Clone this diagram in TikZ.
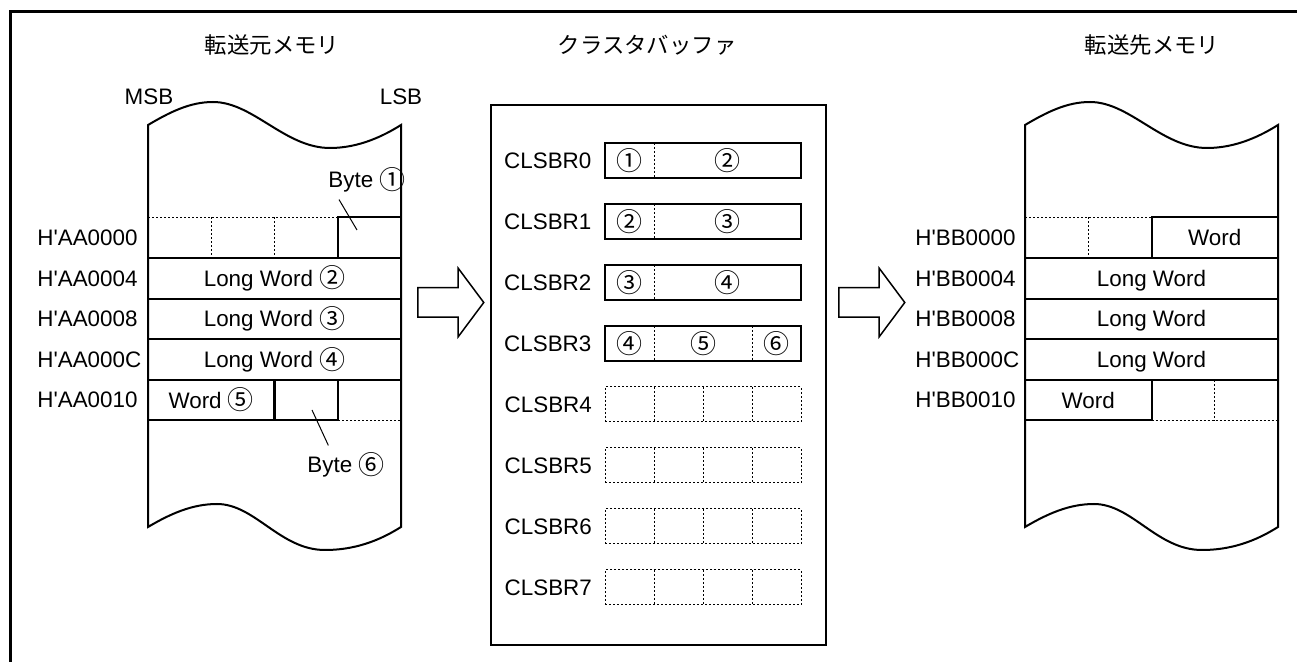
\documentclass[tikz,border=0pt]{standalone}
\usepackage{fontspec}
\setmainfont{Liberation Sans}
\newfontfamily\jpfont{Noto Sans CJK JP}
\usetikzlibrary{positioning,shapes.arrows}
\newcommand{\cnum}[1]{\raisebox{-0.8pt}{\jpfont\fontsize{13}{13}\selectfont #1}}
\newcommand{\hq}{H\textquotesingle}

\begin{document}
\begin{tikzpicture}[x=0.5pt,y=-0.5pt,font=\fontsize{11.2}{13}\selectfont]
\tikzstyle{memline}=[line width=1pt]
\tikzstyle{dotline}=[line width=0.5pt,dash pattern=on 1pt off 1pt]
\tikzstyle{cell}=[draw,line width=1pt,minimum width=126.5pt,minimum height=20.3pt,inner sep=0pt,text height=8pt,text depth=0pt]
\tikzstyle{bytecell}=[cell,minimum width=31.625pt]
\tikzstyle{halfcell}=[cell,minimum width=63.25pt]
\tikzstyle{reg}=[draw,line width=1pt,minimum width=98pt,minimum height=17.5pt,inner sep=0pt]
\tikzstyle{regdot}=[reg,dotline]
\tikzstyle{addr}=[anchor=west,inner sep=0pt]
\tikzstyle{num}=[inner sep=0pt,text height=8.2pt,text depth=0pt]
\tikzstyle{lead}=[line width=0.5pt]
\tikzstyle{blk}=[single arrow,draw,line width=0.75pt,anchor=tail,inner xsep=0pt,inner ysep=7pt,
  single arrow head extend=9.75pt,single arrow tip angle=106.6,minimum height=33pt]
\useasboundingbox (0,0) rectangle (1297,662);
\draw[line width=1.5pt] (10,662) -- (10,12) -- (1297,12);

\node (t1) at (272,45) {\jpfont 転送元メモリ};
\node (t2) at (647,45) {\jpfont クラスタバッファ};
\node (t3) at (1152,45) {\jpfont 転送先メモリ};
\node (msb) at (149,97) {MSB};
\node (lsb) at (401,97) {LSB};

% source memory
\draw[memline] (148,125) .. controls (170,112) and (190,102) .. (213,102) .. controls (253,102) and (285,148) .. (330,148)
  .. controls (360,148) and (385,135) .. (401,125) -- (401,527) .. controls (385,537) and (360,550) .. (325,550)
  .. controls (280,550) and (255,504) .. (217,504) .. controls (192,504) and (170,514) .. (148,527) -- cycle;
\draw[dotline] (148,217.5) -- (338,217.5) (211.25,217.5) -- (211.25,258.1) (274.5,217.5) -- (274.5,258.1);
\node[bytecell] (b1) at (369.5,237.8) {};
\node[cell] (lw2) at (274.5,278.4) {Long Word \cnum{②}};
\node[cell] (lw3) at (274.5,319) {Long Word \cnum{③}};
\node[cell] (lw4) at (274.5,359.6) {Long Word \cnum{④}};
\node[halfcell] (w5) at (211.25,400.2) {Word \cnum{⑤}\hspace{7pt}};
\node[bytecell] (b6) at (306.1,400.2) {};
\draw[dotline] (338,420.5) -- (401,420.5);
\node (lbl1) at (367,180) {Byte \cnum{①}};
\coordinate (p1) at (357,230);
\draw[lead] (lbl1.215) -- (p1);
\node (lbl6) at (346,465) {Byte \cnum{⑥}};
\coordinate (p6) at (312,410);
\draw[lead] (p6) -- (lbl6.132);
\node[addr] (aa0) at (37,237.8) {\hq AA0000};
\node[addr] (aa4) at (37,278.4) {\hq AA0004};
\node[addr] (aa8) at (37,319) {\hq AA0008};
\node[addr] (aac) at (37,359.6) {\hq AA000C};
\node[addr] (aa10) at (37,400.2) {\hq AA0010};

% cluster buffer
\node[draw,line width=1pt,minimum width=167.5pt,minimum height=270pt,inner sep=0pt] (buf) at (658.5,375) {};
\node[reg] (r0) at (703,160.5) {};
\node[reg] (r1) at (703,221.5) {};
\node[reg] (r2) at (703,282.5) {};
\node[reg] (r3) at (703,343.5) {};
\node[regdot] (r4) at (703,404.5) {};
\node[regdot] (r5) at (703,465.5) {};
\node[regdot] (r6) at (703,526.5) {};
\node[regdot] (r7) at (703,587.5) {};
\node[left=2.8pt of r0] (l0) {CLSBR0};
\node[left=2.8pt of r1] (l1) {CLSBR1};
\node[left=2.8pt of r2] (l2) {CLSBR2};
\node[left=2.8pt of r3] (l3) {CLSBR3};
\node[left=2.8pt of r4] (l4) {CLSBR4};
\node[left=2.8pt of r5] (l5) {CLSBR5};
\node[left=2.8pt of r6] (l6) {CLSBR6};
\node[left=2.8pt of r7] (l7) {CLSBR7};
\draw[dotline] (654,143) -- (654,178) (654,204) -- (654,239) (654,265) -- (654,300)
  (654,326) -- (654,361) (752,326) -- (752,361);
\draw[dotline] (654,387) -- (654,422) (703,387) -- (703,422) (752,387) -- (752,422)
  (654,448) -- (654,483) (703,448) -- (703,483) (752,448) -- (752,483)
  (654,509) -- (654,544) (703,509) -- (703,544) (752,509) -- (752,544)
  (654,570) -- (654,605) (703,570) -- (703,605) (752,570) -- (752,605);
\node[num] (c01) at (629.5,160.5) {\cnum{①}};
\node[num] (c02) at (727.5,160.5) {\cnum{②}};
\node[num] (c12) at (629.5,221.5) {\cnum{②}};
\node[num] (c13) at (727.5,221.5) {\cnum{③}};
\node[num] (c23) at (629.5,282.5) {\cnum{③}};
\node[num] (c24) at (727.5,282.5) {\cnum{④}};
\node[num] (c34) at (629.5,343.5) {\cnum{④}};
\node[num] (c35) at (703,343.5) {\cnum{⑤}};
\node[num] (c36) at (776.5,343.5) {\cnum{⑥}};

\node[blk] (ar1) at (417,302.5) {};
\node[blk] (ar2) at (838,302.5) {};

% destination memory
\draw[memline] (1025,125) .. controls (1047,112) and (1067,102) .. (1090,102) .. controls (1130,102) and (1162,148) .. (1207,148)
  .. controls (1237,148) and (1262,135) .. (1278,125) -- (1278,527) .. controls (1262,537) and (1237,550) .. (1202,550)
  .. controls (1157,550) and (1132,504) .. (1094,504) .. controls (1069,504) and (1047,514) .. (1025,527) -- cycle;
\draw[dotline] (1025,217.5) -- (1151.5,217.5) (1088.25,217.5) -- (1088.25,258.1);
\node[halfcell] (wd0) at (1214.75,237.8) {Word};
\node[cell] (lwa) at (1151.5,278.4) {Long Word};
\node[cell] (lwb) at (1151.5,319) {Long Word};
\node[cell] (lwc) at (1151.5,359.6) {Long Word};
\node[halfcell] (wd4) at (1088.25,400.2) {Word};
\draw[dotline] (1151.5,420.5) -- (1278,420.5) (1214.75,379.9) -- (1214.75,420.5);
\node[addr] (bb0) at (915,237.8) {\hq BB0000};
\node[addr] (bb4) at (915,278.4) {\hq BB0004};
\node[addr] (bb8) at (915,319) {\hq BB0008};
\node[addr] (bbc) at (915,359.6) {\hq BB000C};
\node[addr] (bb10) at (915,400.2) {\hq BB0010};
\end{tikzpicture}
\end{document}
